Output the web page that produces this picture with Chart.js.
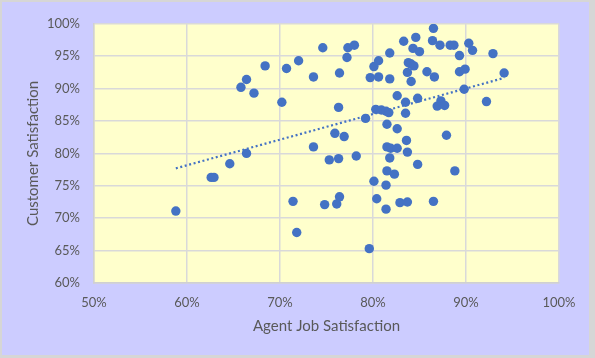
<!DOCTYPE html>
<html><head><meta charset="utf-8">
<script src="https://cdn.jsdelivr.net/npm/chart.js@4"></script>
<style>
html,body{margin:0;padding:0;background:#d6d6d6;width:595px;height:358px;overflow:hidden}
#wrap{position:absolute;left:2px;top:2px;width:587px;height:353px;background:#ccccff}
canvas{display:block}
</style></head><body>
<div id="wrap"><canvas id="c" width="587" height="353"></canvas></div>
<script>
const agentJobSat = [58.8,62.6,62.9,64.6,66.4,65.8,66.4,67.2,68.4,70.2,70.7,71.4,71.8,72.0,73.6,73.6,74.6,74.8,75.3,75.9,76.1,76.3,76.3,76.4,76.4,76.9,77.2,77.3,78.0,78.2,79.2,79.6,79.7,80.1,80.1,80.3,80.4,80.6,80.6,80.9,81.4,81.7,81.4,81.4,81.5,81.5,81.5,81.8,81.8,81.8,81.9,82.3,82.6,82.6,82.6,82.9,83.3,83.5,83.5,83.6,83.7,83.7,83.7,83.8,84.1,84.4,84.1,84.3,84.6,84.8,84.8,85.0,85.8,86.4,86.5,86.5,86.6,86.9,87.2,87.3,87.7,87.9,88.3,88.7,88.8,89.3,89.3,89.8,89.9,90.3,90.7,92.2,92.9,94.1];
const customerSat = [71.1,76.3,76.3,78.4,80.0,90.2,91.4,89.3,93.5,87.9,93.1,72.6,67.8,94.3,91.8,81.0,96.3,72.1,79.0,83.1,72.2,87.1,79.2,92.4,73.3,82.6,94.8,96.3,96.7,79.6,85.4,65.3,91.7,93.4,75.7,86.8,73.0,94.3,91.8,86.7,86.5,86.3,75.1,71.4,84.5,81.0,77.3,95.5,91.5,79.3,80.8,76.8,88.9,83.8,80.8,72.4,97.3,87.9,86.2,82.0,92.5,80.2,72.5,94.0,93.8,93.5,91.1,96.2,97.9,88.5,78.3,95.7,92.6,97.4,99.3,72.6,91.8,87.3,96.7,88.1,87.4,82.8,96.7,96.7,77.3,95.1,92.6,89.9,93.0,97.0,95.9,88.0,95.4,92.4];
const xTicks = [50,60,70,80,90,100];
const yTicks = [60,65,70,75,80,85,90,95,100];

const points = agentJobSat.map((x,i)=>({x:x,y:customerSat[i]}));
// linear least-squares trendline
const n = agentJobSat.length;
const mx = agentJobSat.reduce((a,b)=>a+b,0)/n;
const my = customerSat.reduce((a,b)=>a+b,0)/n;
let sxy=0,sxx=0;
for(let i=0;i<n;i++){sxy+=(agentJobSat[i]-mx)*(customerSat[i]-my);sxx+=(agentJobSat[i]-mx)**2;}
const slope=sxy/sxx, icpt=my-slope*mx;
const xmin=Math.min(...agentJobSat), xmax=Math.max(...agentJobSat);
const trend=[{x:xmin,y:icpt+slope*xmin},{x:xmax,y:icpt+slope*xmax}];

const plotBg={id:'plotBg',beforeDraw(chart){const a=chart.chartArea,ctx=chart.ctx;ctx.save();ctx.fillStyle='#ffffcc';ctx.fillRect(a.left,a.top,a.right-a.left,a.bottom-a.top);ctx.restore();}};

const tickFont={family:'Lato',size:13};
const titleFont={family:'Lato',size:15};
new Chart(document.getElementById('c'),{
  type:'scatter',
  data:{datasets:[
    {type:'line',data:trend,borderColor:'#4472c4',borderWidth:2.2,borderDash:[2,2.6],pointRadius:0,fill:false},
    {data:points,backgroundColor:'#4472c4',borderColor:'#4472c4',borderWidth:0,pointRadius:4.7}
  ]},
  options:{
    responsive:false,animation:false,
    layout:{padding:{left:0,top:17,right:30,bottom:0}},
    plugins:{legend:{display:false},tooltip:{enabled:false}},
    scales:{
      x:{type:'linear',min:50,max:100,
        afterBuildTicks(s){s.ticks=xTicks.map(v=>({value:v}));},
        ticks:{padding:12,font:tickFont,color:'#595959',callback:v=>v+'%'},
        grid:{color:'#d9d9d9',lineWidth:1.5,drawTicks:false},
        border:{color:'#d0d0d0',width:1.5},
        title:{display:true,text:'Agent Job Satisfaction',font:titleFont,color:'#595959',padding:{top:0,bottom:19.6}},
        afterFit(s){s.height=72;}},
      y:{type:'linear',min:60,max:100,
        afterBuildTicks(s){s.ticks=yTicks.map(v=>({value:v}));},
        ticks:{padding:14,font:tickFont,color:'#595959',callback:v=>v+'%'},
        grid:{color:'#d9d9d9',lineWidth:1.5,drawTicks:false},
        border:{color:'#d0d0d0',width:1.5},
        title:{display:true,text:'Customer Satisfaction',font:titleFont,color:'#595959',padding:{top:22,bottom:0}},
        afterFit(s){s.width=92;}}
    }
  },
  plugins:[plotBg]
});
</script></body></html>
